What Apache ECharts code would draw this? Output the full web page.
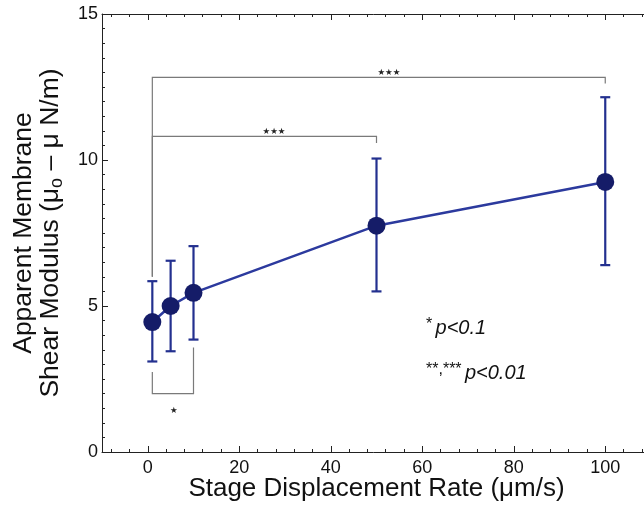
<!DOCTYPE html>
<html>
<head>
<meta charset="utf-8">
<script src="https://cdn.jsdelivr.net/npm/echarts@6/dist/echarts.min.js"></script>
<style>
html,body{margin:0;padding:0;background:#fff;}
#chart{width:644px;height:506px;}
</style>
</head>
<body>
<div id="chart"></div>
<script>
// ---- data ----
var rates = [1, 5, 10, 50, 100];                 // Stage displacement rate (µm/s)
var modulus = [4.45, 5.0, 5.45, 7.75, 9.25];     // mean shear modulus
var errUpper = [5.85, 6.55, 7.05, 10.05, 12.15]; // error bar top
var errLower = [3.1, 3.45, 3.85, 5.5, 6.4];      // error bar bottom

var xMajorTicks = [0, 20, 40, 60, 80, 100];
var xMinorTicks = [-8, -4, 4, 8, 12, 16, 24, 28, 32, 36, 44, 48, 52, 56, 64, 68, 72, 76, 84, 88, 92, 96, 104, 108];

// significance brackets
var bracketLeftX  = [1, 1, 1];
var bracketRightX = [100, 50, 10];
var bracketY      = [12.83, 10.81, 2.0];
var bracketLeftEnd  = [6.0, 6.0, 2.74];
var bracketRightEnd = [12.62, 10.58, 3.58];
var bracketLabel  = ['\u2605\u2605\u2605', '\u2605\u2605\u2605', '\u2605'];
var bracketLabelX = [52.7, 27.6, 5.7];
var bracketLabelY = [12.97, 10.95, 1.42];

var FONT = '"Liberation Sans", Arial, Helvetica, sans-serif';

var chart = echarts.init(document.getElementById('chart'), null, {renderer: 'canvas'});

var axisCommonX = {
  type: 'value', min: -10, max: 110, gridIndex: 0,
  splitLine: {show: false}
};

var option = {
  animation: false,
  backgroundColor: '#fff',
  grid: {left: 102, width: 549, top: 14, bottom: 54, containLabel: false, outerBoundsMode: 'none'},
  xAxis: [
    Object.assign({}, axisCommonX, {
      position: 'bottom',
      name: 'Stage Displacement Rate (\u03bcm/s)',
      nameLocation: 'middle',
      nameGap: 24,
      nameMoveOverlap: false,
      nameTextStyle: {fontFamily: FONT, fontSize: 26, color: '#111', verticalAlign: 'top'},
      axisLine: {show: true, onZero: false, lineStyle: {color: '#222', width: 1}},
      axisTick: {show: true, inside: true, length: 6, customValues: xMajorTicks, lineStyle: {color: '#222'}},
      axisLabel: {show: true, customValues: xMajorTicks, margin: 7, fontFamily: FONT, fontSize: 18, color: '#111'}
    }),
    Object.assign({}, axisCommonX, {
      position: 'bottom',
      axisLine: {show: false, onZero: false},
      axisTick: {show: true, inside: true, length: 3, customValues: xMinorTicks, lineStyle: {color: '#222'}},
      axisLabel: {show: false}
    }),
    Object.assign({}, axisCommonX, {
      position: 'top',
      axisLine: {show: true, onZero: false, lineStyle: {color: '#222', width: 1}},
      axisTick: {show: true, inside: true, length: 6, customValues: xMajorTicks, lineStyle: {color: '#222'}},
      axisLabel: {show: false}
    }),
    Object.assign({}, axisCommonX, {
      position: 'top',
      axisLine: {show: false, onZero: false},
      axisTick: {show: true, inside: true, length: 3, customValues: xMinorTicks, lineStyle: {color: '#222'}},
      axisLabel: {show: false}
    })
  ],
  yAxis: [
    {
      type: 'value', min: 0, max: 15, interval: 5, position: 'left',
      name: 'Apparent Membrane\nShear Modulus (\u03bc{sub|o} \u2013 \u03bc N/m)',
      nameLocation: 'middle',
      nameGap: 38,
      nameMoveOverlap: false,
      nameTextStyle: {
        fontFamily: FONT, fontSize: 26.5, color: '#111', lineHeight: 27, align: 'center',
        rich: {
          sub: {fontFamily: FONT, fontSize: 18, color: '#111', lineHeight: 27, padding: [13, 0, 0, 0]}
        }
      },
      splitLine: {show: false},
      axisLine: {show: true, onZero: false, lineStyle: {color: '#222', width: 1}},
      axisTick: {show: true, inside: true, length: 6, lineStyle: {color: '#222'}},
      minorTick: {show: true, splitNumber: 10, length: 3, lineStyle: {color: '#222'}},
      minorSplitLine: {show: false},
      axisLabel: {margin: 4, fontFamily: FONT, fontSize: 18, color: '#111'}
    },
    {
      type: 'value', min: 0, max: 15, interval: 5, position: 'right',
      splitLine: {show: false},
      axisLine: {show: true, onZero: false, lineStyle: {color: '#222', width: 1}},
      axisTick: {show: true, inside: true, length: 6},
      axisLabel: {show: false}
    }
  ],
  graphic: [
    {
      type: 'text', left: 426, top: 317, z: 10,
      style: {
        text: '{s|*} {p|p<0.1}',
        rich: {
          s: {fontFamily: FONT, fontSize: 16, fill: '#111', verticalAlign: 'top', lineHeight: 22},
          p: {fontFamily: FONT, fontSize: 20, fontStyle: 'italic', fill: '#111', lineHeight: 22}
        }
      }
    },
    {
      type: 'text', left: 426, top: 362, z: 10,
      style: {
        text: '{s|**,***} {p|p<0.01}',
        rich: {
          s: {fontFamily: FONT, fontSize: 16, fill: '#111', verticalAlign: 'top', lineHeight: 22},
          p: {fontFamily: FONT, fontSize: 20, fontStyle: 'italic', fill: '#111', lineHeight: 22}
        }
      }
    }
  ],
  series: [
    {
      type: 'custom',
      name: 'brackets',
      xAxisIndex: 0, yAxisIndex: 0,
      clip: false,
      silent: true,
      data: bracketY.map(function (y, i) {
        return [bracketLeftX[i], bracketRightX[i], y, bracketLeftEnd[i], bracketRightEnd[i], bracketLabelX[i], bracketLabelY[i], i];
      }),
      renderItem: function (params, api) {
        var x1 = api.value(0), x2 = api.value(1), y = api.value(2);
        var yl = api.value(3), yr = api.value(4), lx = api.value(5), ly = api.value(6);
        var i = api.value(7);
        var a = api.coord([x1, y]), b = api.coord([x2, y]);
        var al = api.coord([x1, yl]), br = api.coord([x2, yr]);
        var lp = api.coord([lx, ly]);
        var st = {stroke: '#7a7a7a', lineWidth: 1.2, fill: null};
        return {
          type: 'group',
          children: [
            {type: 'polyline', shape: {points: [al, a, b, br]}, style: st},
            {type: 'text', x: lp[0], y: lp[1],
             style: {text: bracketLabel[i], fontFamily: '"DejaVu Sans", sans-serif', fontSize: 8.5, fill: '#222', align: 'center', verticalAlign: 'middle'}}
          ]
        };
      },
      z: 2
    },
    {
      type: 'custom',
      name: 'error',
      xAxisIndex: 0, yAxisIndex: 0,
      clip: false,
      silent: true,
      data: rates.map(function (r, i) { return [r, errLower[i], errUpper[i]]; }),
      renderItem: function (params, api) {
        var x = api.value(0);
        var lo = api.coord([x, api.value(1)]);
        var hi = api.coord([x, api.value(2)]);
        var w = 5;
        var st = {stroke: '#23308f', lineWidth: 2.2, fill: null};
        return {
          type: 'group',
          children: [
            {type: 'line', shape: {x1: hi[0], y1: hi[1], x2: lo[0], y2: lo[1]}, style: st},
            {type: 'line', shape: {x1: hi[0] - w, y1: hi[1], x2: hi[0] + w, y2: hi[1]}, style: st},
            {type: 'line', shape: {x1: lo[0] - w, y1: lo[1], x2: lo[0] + w, y2: lo[1]}, style: st}
          ]
        };
      },
      z: 3
    },
    {
      type: 'line',
      name: 'modulus',
      xAxisIndex: 0, yAxisIndex: 0,
      data: rates.map(function (r, i) { return [r, modulus[i]]; }),
      symbol: 'circle',
      symbolSize: 18,
      itemStyle: {color: '#151c68', borderWidth: 0},
      lineStyle: {color: '#2c3a9e', width: 2.5},
      z: 5
    }
  ]
};

chart.setOption(option);
</script>
</body>
</html>
